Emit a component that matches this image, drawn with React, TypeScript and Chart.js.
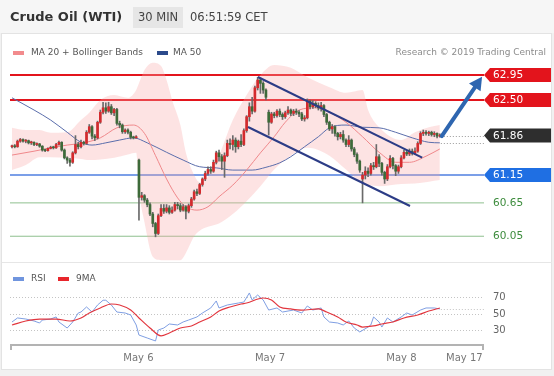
import React, { useEffect, useRef } from 'react';
import { Chart, registerables } from 'chart.js';

Chart.register(...registerables);

const FONT = '"DejaVu Sans", Verdana, sans-serif';

// ---------- Candles (30 min), index 0..155 ----------
const opens = [
  61.66, 61.67, 61.66, 61.76, 61.79, 61.76, 61.77, 61.73, 61.74, 61.70,
  61.71, 61.67, 61.60, 61.59, 61.63, 61.65, 61.64, 61.70, 61.74, 61.60,
  61.46, 61.42, 61.38, 61.55, 61.70, 61.66, 61.74, 61.72, 61.92, 62.02,
  61.85, 61.82, 62.10, 62.28, 62.36, 62.30, 62.38, 62.27, 62.33, 62.08,
  62.05, 61.93, 61.96, 61.92, 61.83, 61.82, 61.42, 60.75, 60.78, 60.70,
  60.62, 60.45, 60.28, 60.10, 60.42, 60.55, 60.50, 60.56, 60.48, 60.52,
  60.62, 60.60, 60.52, 60.58, 60.50, 60.60, 60.72, 60.85, 60.82, 60.98,
  61.08, 61.18, 61.25, 61.22, 61.38, 61.55, 61.48, 61.40, 61.50, 61.72,
  61.70, 61.78, 61.66, 61.76, 61.70, 61.95, 62.20, 62.38, 62.30, 62.72,
  62.86, 62.80, 62.68, 62.28, 62.10, 62.25, 62.22, 62.30, 62.24, 62.20,
  62.27, 62.32, 62.26, 62.30, 62.28, 62.25, 62.16, 62.18, 62.48, 62.38,
  62.44, 62.40, 62.36, 62.40, 62.24, 62.10, 61.98, 62.02, 61.90, 61.84,
  61.88, 61.78, 61.70, 61.78, 61.62, 61.52, 61.40, 61.08, 61.15, 61.22,
  61.18, 61.32, 61.30, 61.48, 61.36, 61.20, 61.08, 61.30, 61.45, 61.32,
  61.22, 61.30, 61.46, 61.56, 61.53, 61.58, 61.54, 61.58, 61.72, 61.90,
  61.92, 61.90, 61.92, 61.88, 61.90, 61.85,
];
const highs = [
  61.69, 61.70, 61.78, 61.81, 61.80, 61.79, 61.78, 61.76, 61.75, 61.73,
  61.72, 61.68, 61.62, 61.64, 61.67, 61.67, 61.72, 61.76, 61.75, 61.62,
  61.48, 61.45, 61.57, 61.86, 61.74, 61.78, 61.76, 61.95, 62.06, 62.04,
  61.88, 62.12, 62.32, 62.46, 62.45, 62.46, 62.42, 62.35, 62.35, 62.12,
  62.07, 61.98, 61.98, 61.94, 61.85, 61.86, 61.44, 60.84, 60.80, 60.73,
  60.65, 60.48, 60.30, 60.45, 60.62, 60.62, 60.62, 60.60, 60.58, 60.66,
  60.66, 60.64, 60.62, 60.60, 60.63, 60.75, 60.88, 60.90, 61.00, 61.10,
  61.22, 61.30, 61.30, 61.42, 61.58, 61.60, 61.52, 61.55, 61.78, 61.80,
  61.86, 61.82, 61.78, 61.88, 61.98, 62.22, 62.45, 62.55, 62.75, 62.91,
  62.90, 62.83, 62.70, 62.32, 62.28, 62.28, 62.33, 62.34, 62.27, 62.30,
  62.38, 62.34, 62.33, 62.34, 62.31, 62.28, 62.22, 62.52, 62.50, 62.49,
  62.47, 62.45, 62.46, 62.42, 62.26, 62.12, 62.06, 62.04, 61.92, 61.92,
  61.95, 61.80, 61.86, 61.80, 61.65, 61.55, 61.42, 61.20, 61.30, 61.28,
  61.36, 61.38, 61.70, 61.52, 61.38, 61.22, 61.34, 61.50, 61.47, 61.34,
  61.33, 61.50, 61.60, 61.60, 61.62, 61.62, 61.64, 61.75, 61.93, 61.96,
  61.95, 61.94, 61.94, 61.93, 61.91, 61.89,
];
const lows = [
  61.64, 61.64, 61.65, 61.74, 61.74, 61.73, 61.71, 61.70, 61.68, 61.68,
  61.65, 61.58, 61.57, 61.58, 61.62, 61.62, 61.63, 61.69, 61.58, 61.44,
  61.36, 61.31, 61.36, 61.53, 61.62, 61.64, 61.69, 61.70, 61.90, 61.80,
  61.77, 61.80, 62.08, 62.25, 62.26, 62.28, 62.24, 62.22, 62.05, 62.00,
  61.90, 61.90, 61.89, 61.80, 61.80, 61.81, 60.34, 60.70, 60.66, 60.58,
  60.42, 60.22, 60.04, 60.08, 60.40, 60.46, 60.47, 60.45, 60.46, 60.50,
  60.54, 60.49, 60.50, 60.36, 60.47, 60.57, 60.70, 60.78, 60.80, 60.95,
  61.05, 61.15, 61.18, 61.20, 61.35, 61.40, 61.25, 61.11, 61.48, 61.62,
  61.60, 61.56, 61.62, 61.66, 61.68, 61.92, 62.12, 62.25, 62.28, 62.68,
  62.62, 62.62, 62.50, 61.87, 62.08, 62.18, 62.19, 62.20, 62.15, 62.17,
  62.24, 62.22, 62.22, 62.24, 62.20, 62.13, 62.12, 62.16, 62.34, 62.35,
  62.36, 62.32, 62.30, 62.20, 62.06, 61.95, 61.90, 61.85, 61.78, 61.80,
  61.74, 61.66, 61.66, 61.58, 61.48, 61.36, 61.20, 60.65, 61.08, 61.12,
  61.15, 61.25, 61.28, 61.30, 61.15, 61.00, 61.05, 61.28, 61.26, 61.14,
  61.18, 61.28, 61.44, 61.50, 61.50, 61.51, 61.52, 61.56, 61.70, 61.86,
  61.87, 61.86, 61.85, 61.84, 61.82, 61.83,
];
const closes = [
  61.67, 61.66, 61.76, 61.79, 61.76, 61.77, 61.73, 61.74, 61.70, 61.71,
  61.67, 61.60, 61.59, 61.63, 61.65, 61.64, 61.70, 61.74, 61.60, 61.46,
  61.42, 61.38, 61.55, 61.70, 61.66, 61.74, 61.72, 61.92, 62.02, 61.85,
  61.82, 62.10, 62.28, 62.36, 62.30, 62.38, 62.27, 62.33, 62.08, 62.05,
  61.93, 61.96, 61.92, 61.83, 61.82, 61.84, 60.75, 60.78, 60.70, 60.62,
  60.45, 60.28, 60.10, 60.42, 60.55, 60.50, 60.56, 60.48, 60.52, 60.62,
  60.60, 60.52, 60.58, 60.50, 60.60, 60.72, 60.85, 60.82, 60.98, 61.08,
  61.18, 61.25, 61.22, 61.38, 61.55, 61.48, 61.40, 61.50, 61.72, 61.70,
  61.78, 61.66, 61.76, 61.70, 61.95, 62.20, 62.38, 62.30, 62.72, 62.86,
  62.80, 62.68, 62.55, 62.10, 62.25, 62.22, 62.30, 62.24, 62.20, 62.27,
  62.32, 62.26, 62.30, 62.28, 62.25, 62.16, 62.18, 62.48, 62.38, 62.44,
  62.40, 62.36, 62.40, 62.24, 62.10, 61.98, 62.02, 61.90, 61.84, 61.88,
  61.78, 61.70, 61.78, 61.62, 61.52, 61.40, 61.24, 61.15, 61.22, 61.18,
  61.32, 61.30, 61.48, 61.36, 61.20, 61.08, 61.30, 61.45, 61.32, 61.22,
  61.30, 61.46, 61.56, 61.53, 61.58, 61.54, 61.58, 61.72, 61.90, 61.92,
  61.90, 61.92, 61.88, 61.90, 61.85, 61.86,
];

// ---------- Indicators (x = candle index) ----------
const ma20Idx = [0, 8, 14, 20, 26, 32, 38, 44, 48, 52, 56, 60, 63, 67, 71, 75, 80, 85, 90, 95, 99, 104, 110, 115, 121, 127, 133, 139, 144, 150, 155];
const ma20Val = [61.51, 61.58, 61.64, 61.69, 61.73, 61.82, 62.0, 62.05, 61.9, 61.5, 61.08, 60.74, 60.58, 60.52, 60.58, 60.76, 60.97, 61.24, 61.55, 61.84, 62.1, 62.32, 62.36, 62.28, 62.1, 61.84, 61.56, 61.38, 61.38, 61.49, 61.62];

const bandIdx = [0, 5, 10, 14, 20, 25, 28, 32, 37, 42, 45, 46, 48, 51, 54, 56, 58, 61, 63, 66, 68, 71, 75, 80, 85, 90, 95, 101, 107, 115, 121, 127, 129, 133, 141, 146, 151, 155];
const bandUpper = [62.0, 61.96, 61.96, 61.91, 61.92, 62.14, 62.27, 62.5, 62.59, 62.54, 62.68, 62.8, 63.04, 63.17, 63.11, 62.86, 62.5, 62.05, 61.55, 61.15, 61.02, 61.12, 61.5, 62.14, 62.59, 62.95, 63.13, 63.08, 62.91, 62.73, 62.63, 62.68, 62.32, 62.01, 61.78, 61.92, 62.01, 62.05];
const bandLower = [61.24, 61.33, 61.47, 61.47, 61.46, 61.44, 61.42, 61.43, 61.46, 61.52, 61.55, 60.88, 60.3, 59.68, 59.62, 59.62, 59.62, 59.62, 59.75, 60.05, 60.15, 60.22, 60.28, 60.45, 60.68, 60.95, 61.25, 61.5, 61.64, 61.5, 61.25, 61.0, 60.97, 60.95, 60.99, 61.0, 61.03, 61.06];

const ma50Idx = [0, 8, 14, 20, 25, 29, 34, 39, 44, 49, 56, 62, 68, 74, 80, 87, 92, 97, 101, 106, 111, 115, 121, 127, 133, 139, 145, 151, 155];
const ma50Val = [62.54, 62.32, 62.14, 61.92, 61.74, 61.69, 61.73, 61.78, 61.82, 61.73, 61.56, 61.42, 61.3, 61.28, 61.24, 61.24, 61.29, 61.37, 61.48, 61.66, 61.84, 62.0, 62.05, 62.01, 62.0, 61.92, 61.82, 61.74, 61.73];

const rsiIdx = [0, 2, 5, 8, 10, 11, 14, 16, 17, 20, 22, 24, 25, 27, 29, 31, 33, 34, 36, 38, 41, 43, 45, 46, 49, 52, 53, 55, 57, 60, 62, 64, 67, 69, 72, 74, 75, 78, 82, 84, 86, 87, 89, 91, 93, 96, 98, 102, 105, 107, 109, 112, 113, 115, 118, 120, 122, 124, 126, 129, 130, 131, 133, 134, 136, 138, 141, 143, 145, 148, 150, 153, 155];
const rsiVal = [40.3, 45.2, 43.9, 41.5, 39.1, 42.7, 43.9, 46.4, 40.3, 33.0, 40.3, 51.2, 52.4, 58.5, 52.4, 60.9, 66.7, 66.7, 60.9, 52.4, 51.2, 48.8, 36.7, 24.5, 20.9, 17.3, 30.6, 33.0, 37.9, 36.7, 40.3, 42.7, 46.4, 51.2, 57.3, 65.8, 57.3, 60.9, 63.3, 64.5, 75.5, 67.0, 73.0, 67.0, 54.8, 57.3, 52.4, 54.8, 51.2, 59.7, 54.8, 57.3, 46.4, 40.3, 39.1, 36.7, 41.5, 33.0, 28.2, 34.2, 36.7, 46.4, 40.3, 34.2, 45.2, 40.3, 46.4, 51.2, 48.8, 54.8, 57.3, 57.3, 56.1];

const sigIdx = [0, 5, 10, 16, 21, 25, 28, 32, 36, 39, 43, 46, 50, 54, 57, 61, 65, 68, 72, 75, 79, 83, 85, 91, 94, 97, 101, 105, 111, 114, 118, 121, 125, 127, 131, 134, 138, 142, 147, 151, 155];
const sigVal = [36.7, 41.5, 43.9, 43.9, 41.5, 45.2, 51.2, 57.3, 62.1, 60.9, 54.8, 45.2, 33.0, 23.5, 27.0, 33.0, 35.5, 40.3, 46.4, 53.6, 58.5, 62.1, 63.3, 69.4, 67.0, 58.5, 56.1, 54.8, 56.1, 52.4, 46.4, 40.3, 36.7, 34.2, 35.5, 37.9, 40.3, 45.2, 48.8, 53.6, 57.3];

// ---------- Levels / annotations ----------
const resistLevels = [62.95, 62.5];
const pivotLevel = 61.15;
const supportLevels = [60.65, 60.05];
const lastPrice = 61.86;
const ma50Last = 61.73;
const rsiLast = 56.5;
const rsiGrid = [70, 50, 30];
const channelUpper = [[89.1, 62.914], [148.6, 61.463]];
const channelLower = [[85.5, 62.015], [144.2, 60.594]];
const arrowPath = [[155.7, 61.85], [170.3, 62.92]];
const dateTicks = [45.8, 93.5, 141.1, 163.9];
const dateLabels = ['May 6', 'May 7', 'May 8', 'May 17'];

const UP = '#d42a2d';
const DOWN = '#3d6a39';
const WICK = '#6a6a6a';
const RED = '#e3141c';
const BLUE = '#1f6fe3';
const GREEN_TXT = '#3d8c3d';

const pts = (xs: number[], ys: number[]) => xs.map((x, k) => ({ x, y: ys[k] }));

const decor = {
  id: 'decor',
  beforeDraw(chart: any) {
    const ctx = chart.ctx;
    const { left, right } = chart.chartArea;
    const ys = chart.scales.y;
    const y2 = chart.scales.y2;
    ctx.save();
    ctx.fillStyle = '#f1f1f1';
    ctx.fillRect(0, 0, 554, 376);
    ctx.fillStyle = '#f6f6f6';
    ctx.fillRect(0, 0, 554, 33);
    ctx.fillStyle = '#ffffff';
    ctx.fillRect(2, 33, 550, 337);
    ctx.strokeStyle = '#e3e3e3';
    ctx.lineWidth = 1;
    ctx.strokeRect(1.5, 33.5, 550, 336);
    ctx.fillStyle = '#e6e6e6';
    ctx.fillRect(133, 7, 50, 21);

    ctx.textBaseline = 'middle';
    ctx.textAlign = 'left';
    ctx.fillStyle = '#333';
    ctx.font = `bold 13px ${FONT}`;
    ctx.fillText('Crude Oil (WTI)', 10, 18);
    ctx.fillStyle = '#444';
    ctx.font = `11.5px ${FONT}`;
    ctx.fillText('30 MIN', 138, 18);
    ctx.fillText('06:51:59 CET', 190, 18);

    // legends
    ctx.font = `9px ${FONT}`;
    ctx.fillStyle = '#f28b8d';
    ctx.fillRect(13, 51, 11, 4);
    ctx.fillStyle = '#2b4a8b';
    ctx.fillRect(157, 51, 11, 4);
    ctx.fillStyle = '#555';
    ctx.fillText('MA 20 + Bollinger Bands', 31, 53);
    ctx.fillText('MA 50', 173, 53);
    ctx.fillStyle = '#8c8c8c';
    ctx.textAlign = 'right';
    ctx.fillText('Research \u00a9 2019 Trading Central', 546, 53);
    ctx.textAlign = 'left';

    ctx.fillStyle = '#7095de';
    ctx.fillRect(13, 277, 11, 4);
    ctx.fillStyle = '#e8262c';
    ctx.fillRect(58, 277, 11, 4);
    ctx.fillStyle = '#555';
    ctx.fillText('RSI', 31, 279);
    ctx.fillText('9MA', 76, 279);

    // separator
    ctx.strokeStyle = '#e6e6e6';
    ctx.beginPath();
    ctx.moveTo(2, 262.5);
    ctx.lineTo(552, 262.5);
    ctx.stroke();

    // rsi dotted grid
    ctx.strokeStyle = '#c4c4c4';
    ctx.setLineDash([1, 2]);
    rsiGrid.forEach((v) => {
      const y = Math.round(y2.getPixelForValue(v)) + 0.5;
      ctx.beginPath();
      ctx.moveTo(left, y);
      ctx.lineTo(right, y);
      ctx.stroke();
    });
    ctx.setLineDash([]);

    // level lines
    const hline = (v: number, color: string, w: number) => {
      const y = ys.getPixelForValue(v);
      ctx.strokeStyle = color;
      ctx.lineWidth = w;
      ctx.beginPath();
      ctx.moveTo(left, y);
      ctx.lineTo(right, y);
      ctx.stroke();
    };
    resistLevels.forEach((v) => hline(v, RED, 2));
    hline(pivotLevel, '#4f7fe0', 1.5);
    supportLevels.forEach((v) => hline(v, '#8fc08f', 1));
    ctx.restore();
  },
  afterDatasetsDraw(chart: any) {
    const ctx = chart.ctx;
    const xs = chart.scales.x;
    const ys = chart.scales.y;
    const y2 = chart.scales.y2;
    const { left, right, bottom } = chart.chartArea;
    ctx.save();

    // dotted current lines
    ctx.strokeStyle = '#9a9a9a';
    ctx.lineWidth = 1;
    ctx.setLineDash([1, 2]);
    const lastX = xs.getPixelForValue(closes.length - 1) + 1;
    [ys.getPixelForValue(lastPrice), ys.getPixelForValue(ma50Last)].forEach((y: number) => {
      ctx.beginPath();
      ctx.moveTo(lastX, Math.round(y) + 0.5);
      ctx.lineTo(right, Math.round(y) + 0.5);
      ctx.stroke();
    });
    ctx.strokeStyle = '#c4c4c4';
    const ry = Math.round(y2.getPixelForValue(rsiLast)) + 0.5;
    ctx.beginPath();
    ctx.moveTo(lastX, ry);
    ctx.lineTo(right, ry);
    ctx.stroke();
    ctx.setLineDash([]);

    // arrow
    const ax1 = xs.getPixelForValue(arrowPath[0][0]);
    const ay1 = ys.getPixelForValue(arrowPath[0][1]);
    const ax2 = xs.getPixelForValue(arrowPath[1][0]);
    const ay2 = ys.getPixelForValue(arrowPath[1][1]);
    const ang = Math.atan2(ay2 - ay1, ax2 - ax1);
    const hl = 13;
    const hw = 7;
    const bx = ax2 - hl * Math.cos(ang);
    const by = ay2 - hl * Math.sin(ang);
    ctx.strokeStyle = '#2e66b0';
    ctx.fillStyle = '#2e66b0';
    ctx.lineWidth = 4;
    ctx.lineCap = 'round';
    ctx.beginPath();
    ctx.moveTo(ax1, ay1);
    ctx.lineTo(bx + 2 * Math.cos(ang), by + 2 * Math.sin(ang));
    ctx.stroke();
    ctx.beginPath();
    ctx.moveTo(ax2, ay2);
    ctx.lineTo(bx + hw * Math.sin(ang), by - hw * Math.cos(ang));
    ctx.lineTo(bx - hw * Math.sin(ang), by + hw * Math.cos(ang));
    ctx.closePath();
    ctx.fill();
    ctx.lineCap = 'butt';

    // tags
    const tag = (v: number, bg: string) => {
      const y = ys.getPixelForValue(v);
      const h = 14;
      ctx.fillStyle = bg;
      ctx.beginPath();
      ctx.moveTo(484, y);
      ctx.lineTo(490, y - h / 2);
      ctx.lineTo(551, y - h / 2);
      ctx.lineTo(551, y + h / 2);
      ctx.lineTo(490, y + h / 2);
      ctx.closePath();
      ctx.fill();
      ctx.fillStyle = '#ffffff';
      ctx.font = `10.5px ${FONT}`;
      ctx.textAlign = 'left';
      ctx.textBaseline = 'middle';
      ctx.fillText(v.toFixed(2), 493, y + 0.5);
    };
    resistLevels.forEach((v) => tag(v, RED));
    tag(lastPrice, '#2e2e2e');
    tag(pivotLevel, BLUE);
    ctx.font = `10.5px ${FONT}`;
    ctx.fillStyle = GREEN_TXT;
    supportLevels.forEach((v) => ctx.fillText(v.toFixed(2), 493, ys.getPixelForValue(v) + 0.5));

    // rsi labels
    ctx.fillStyle = '#666';
    ctx.font = `10px ${FONT}`;
    rsiGrid.forEach((v) => ctx.fillText(String(v), 493, y2.getPixelForValue(v)));

    // x axis
    ctx.strokeStyle = '#b3b3b3';
    ctx.lineWidth = 2;
    ctx.beginPath();
    ctx.moveTo(left, bottom);
    ctx.lineTo(right, bottom);
    ctx.moveTo(left + 1, bottom);
    ctx.lineTo(left + 1, bottom + 5);
    ctx.moveTo(right - 1, bottom);
    ctx.lineTo(right - 1, bottom + 5);
    ctx.stroke();
    ctx.fillStyle = '#777';
    ctx.font = `10px ${FONT}`;
    ctx.textAlign = 'center';
    dateTicks.forEach((t, k) => ctx.fillText(dateLabels[k], xs.getPixelForValue(t), bottom + 13));
    ctx.restore();
  },
};

export default function App() {
  const ref = useRef<HTMLCanvasElement | null>(null);
  useEffect(() => {
    if (!ref.current) return;
    const priceClip = { left: 0, top: 0, right: 0, bottom: -83 };
    const colors = closes.map((c, i) => (c >= opens[i] ? UP : DOWN));
    const chart = new Chart(ref.current, {
      type: 'bar',
      data: {
        datasets: [
          {
            type: 'line',
            label: 'BB upper',
            data: pts(bandIdx, bandUpper),
            borderColor: 'transparent',
            borderWidth: 0,
            pointRadius: 0,
            backgroundColor: 'rgba(248,168,168,0.32)',
            fill: '+1',
            cubicInterpolationMode: 'monotone',
            yAxisID: 'y',
            order: 10,
            clip: priceClip,
          } as any,
          {
            type: 'line',
            label: 'BB lower',
            data: pts(bandIdx, bandLower),
            borderColor: 'transparent',
            borderWidth: 0,
            pointRadius: 0,
            fill: false,
            cubicInterpolationMode: 'monotone',
            yAxisID: 'y',
            order: 10,
            clip: priceClip,
          } as any,
          {
            type: 'line',
            label: 'MA 20',
            data: pts(ma20Idx, ma20Val),
            borderColor: '#f0888b',
            borderWidth: 1,
            pointRadius: 0,
            cubicInterpolationMode: 'monotone',
            yAxisID: 'y',
            order: 6,
            clip: priceClip,
          } as any,
          {
            type: 'line',
            label: 'MA 50',
            data: pts(ma50Idx, ma50Val),
            borderColor: '#5b6eac',
            borderWidth: 1,
            pointRadius: 0,
            cubicInterpolationMode: 'monotone',
            yAxisID: 'y',
            order: 6,
            clip: priceClip,
          } as any,
          {
            type: 'bar',
            label: 'wicks',
            data: lows.map((l, i) => ({ x: i, y: [l, highs[i]] })),
            backgroundColor: WICK,
            barThickness: 1,
            grouped: false,
            borderWidth: 0,
            yAxisID: 'y',
            order: 4,
            clip: priceClip,
          } as any,
          {
            type: 'bar',
            label: 'bodies',
            data: opens.map((o, i) => ({ x: i, y: [o, closes[i]] })),
            backgroundColor: colors,
            barThickness: 2,
            minBarLength: 1,
            grouped: false,
            borderWidth: 0,
            yAxisID: 'y',
            order: 3,
            clip: priceClip,
          } as any,
          {
            type: 'line',
            label: 'channel upper',
            data: channelUpper.map(([x, y]) => ({ x, y })),
            borderColor: '#2c3c86',
            borderWidth: 2,
            pointRadius: 0,
            yAxisID: 'y',
            order: 1,
          } as any,
          {
            type: 'line',
            label: 'channel lower',
            data: channelLower.map(([x, y]) => ({ x, y })),
            borderColor: '#2c3c86',
            borderWidth: 2,
            pointRadius: 0,
            yAxisID: 'y',
            order: 1,
          } as any,
          {
            type: 'line',
            label: 'RSI',
            data: pts(rsiIdx, rsiVal),
            borderColor: '#7f9fe3',
            borderWidth: 1,
            pointRadius: 0,
            tension: 0,
            yAxisID: 'y2',
            order: 2,
          } as any,
          {
            type: 'line',
            label: '9MA',
            data: pts(sigIdx, sigVal),
            borderColor: '#e2363e',
            borderWidth: 1.2,
            pointRadius: 0,
            cubicInterpolationMode: 'monotone',
            yAxisID: 'y2',
            order: 1,
          } as any,
        ],
      },
      options: {
        animation: false,
        responsive: false,
        maintainAspectRatio: false,
        devicePixelRatio: 1,
        events: [],
        layout: { padding: { left: 10, right: 70, top: 62, bottom: 31 } },
        plugins: { legend: { display: false }, tooltip: { enabled: false } },
        scales: {
          x: { type: 'linear', min: -0.72, max: 171, display: false, offset: false },
          y: { type: 'linear', min: 58.094, max: 63.184, display: false },
          y2: { type: 'linear', min: 12.42, max: 355.45, display: false },
        },
      } as any,
      plugins: [decor],
    });
    return () => chart.destroy();
  }, []);
  return (
    <div style={{ position: 'fixed', left: 0, top: 0, width: 554, height: 376 }}>
      <canvas ref={ref} width={554} height={376} style={{ display: 'block', width: 554, height: 376 }} />
    </div>
  );
}
